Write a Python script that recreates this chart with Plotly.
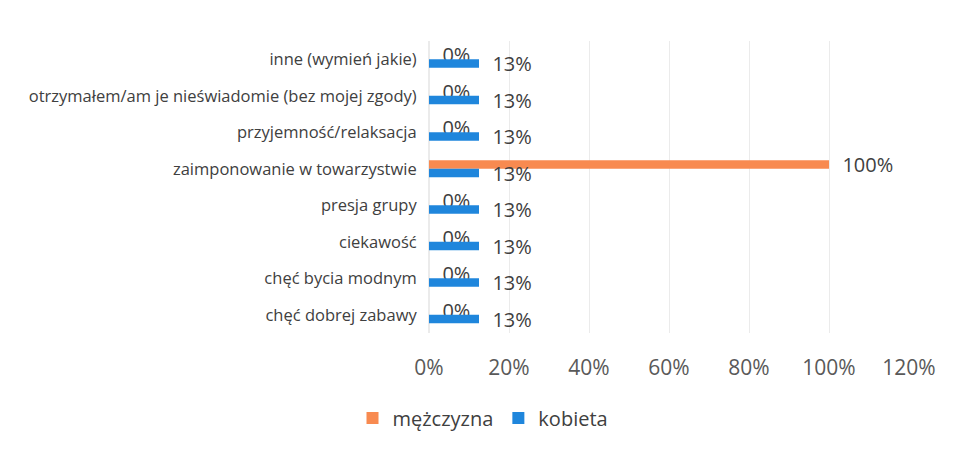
import plotly.graph_objects as go

categories = [
    "inne (wymień jakie)",
    "otrzymałem/am je nieświadomie (bez mojej zgody)",
    "przyjemność/relaksacja",
    "zaimponowanie w towarzystwie",
    "presja grupy",
    "ciekawość",
    "chęć bycia modnym",
    "chęć dobrej zabawy",
]
mezczyzna = [0.0, 0.0, 0.0, 1.0, 0.0, 0.0, 0.0, 0.0]
kobieta = [0.125, 0.125, 0.125, 0.125, 0.125, 0.125, 0.125, 0.125]
tick_vals = [0, 0.2, 0.4, 0.6, 0.8, 1.0, 1.2]
tick_text = ["0%", "20%", "40%", "60%", "80%", "100%", "120%"]

def pct_labels(vals):
    return ["\u00a0\u00a0" + f"{int(v * 100 + 0.5)}%" for v in vals]

FONT = "Open Sans"
TXT = "#404040"

fig = go.Figure()
fig.add_trace(go.Bar(
    name="mężczyzna", y=categories, x=mezczyzna, orientation="h",
    marker=dict(color="#F88A50", line=dict(width=0)),
    text=pct_labels(mezczyzna), textposition="outside", constraintext="none",
    textfont=dict(family=FONT, size=20, color=TXT), cliponaxis=False,
))
fig.add_trace(go.Bar(
    name="kobieta", y=categories, x=kobieta, orientation="h",
    marker=dict(color="#1F86DC", line=dict(width=0)),
    text=pct_labels(kobieta), textposition="outside", constraintext="none",
    textfont=dict(family=FONT, size=20, color=TXT), cliponaxis=False,
))

fig.update_layout(
    width=960, height=451,
    paper_bgcolor="white", plot_bgcolor="white",
    barmode="group", bargap=0.53, bargroupgap=0.0,
    margin=dict(l=421, r=59, t=33, b=126),
    font=dict(family=FONT, color=TXT),
    showlegend=True,
    legend=dict(orientation="h", x=0.1125, xanchor="center", y=-0.291, yanchor="middle",
                font=dict(family=FONT, size=20, color=TXT), traceorder="normal"),
    xaxis=dict(range=[0, 1.2], tickvals=tick_vals, ticktext=tick_text, automargin=False,
               showgrid=True, gridcolor="#ebebeb", gridwidth=1,
               zeroline=True, zerolinecolor="#ebebeb", showline=False,
               ticks="outside", ticklen=16, tickcolor="rgba(0,0,0,0)",
               tickfont=dict(family=FONT, size=21, color="#595959")),
    yaxis=dict(autorange="reversed", showgrid=False, zeroline=False, showline=False,
               automargin=False,
               ticks="outside", ticklen=8, tickcolor="rgba(0,0,0,0)",
               tickfont=dict(family=FONT, size=16.5, color=TXT)),
)

fig.write_html("out.html")
